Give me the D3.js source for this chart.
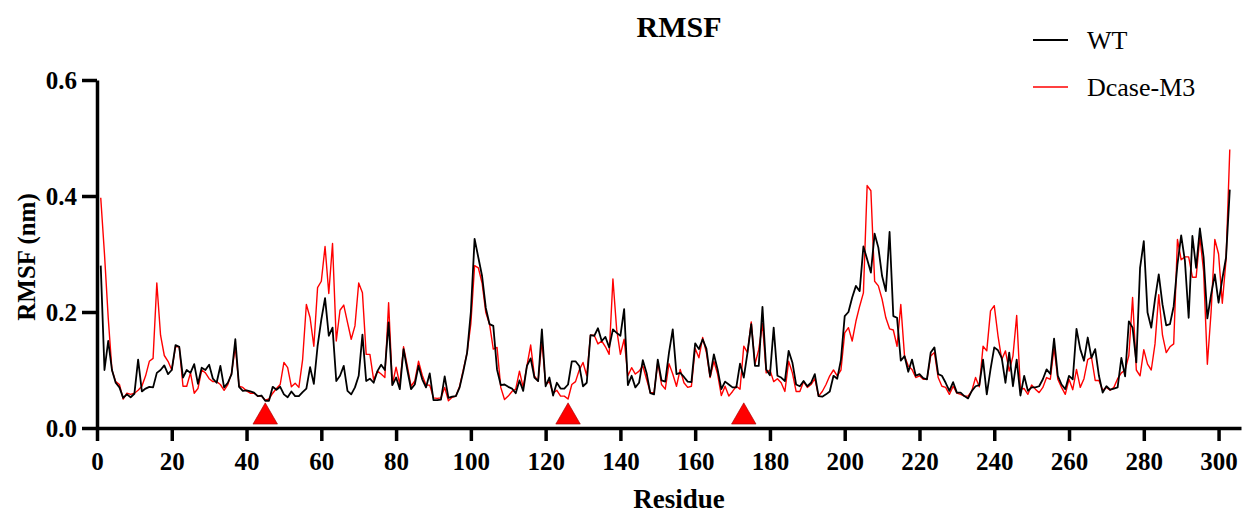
<!DOCTYPE html>
<html><head><meta charset="utf-8">
<script src="https://cdn.jsdelivr.net/npm/d3@7"></script>
<style>body{margin:0;background:#fff}svg{display:block}</style>
</head><body>
<script>
const wt = [0.28,0.10,0.15,0.10,0.078,0.07,0.052,0.058,0.053,0.059,0.118,0.063,0.068,0.071,0.07,0.095,0.10,0.108,0.093,0.10,
0.143,0.14,0.087,0.10,0.095,0.11,0.076,0.104,0.10,0.109,0.085,0.078,0.107,0.07,0.078,0.093,0.153,0.071,0.064,0.065,
0.063,0.061,0.055,0.056,0.047,0.047,0.071,0.066,0.071,0.058,0.053,0.063,0.055,0.055,0.062,0.068,0.105,0.076,0.141,0.187,
0.224,0.159,0.173,0.081,0.09,0.107,0.064,0.058,0.07,0.09,0.161,0.081,0.085,0.078,0.098,0.109,0.10,0.182,0.074,0.087,
0.067,0.136,0.10,0.067,0.075,0.107,0.084,0.07,0.094,0.048,0.048,0.049,0.089,0.052,0.054,0.055,0.07,0.098,0.13,0.2,
0.326,0.294,0.262,0.207,0.179,0.176,0.101,0.074,0.075,0.071,0.068,0.06,0.082,0.064,0.107,0.12,0.087,0.081,0.17,0.072,
0.087,0.056,0.078,0.068,0.068,0.075,0.115,0.115,0.107,0.072,0.078,0.16,0.159,0.172,0.15,0.157,0.139,0.17,0.164,0.159,
0.205,0.074,0.09,0.07,0.078,0.117,0.095,0.06,0.058,0.118,0.082,0.08,0.13,0.17,0.093,0.095,0.088,0.08,0.079,0.146,
0.136,0.153,0.137,0.089,0.127,0.101,0.067,0.08,0.075,0.07,0.07,0.111,0.087,0.13,0.179,0.107,0.107,0.209,0.101,0.091,
0.173,0.09,0.087,0.081,0.133,0.113,0.075,0.072,0.081,0.072,0.078,0.093,0.055,0.054,0.058,0.063,0.09,0.085,0.118,0.193,
0.2,0.225,0.245,0.236,0.313,0.291,0.268,0.335,0.311,0.262,0.236,0.338,0.193,0.19,0.116,0.124,0.097,0.118,0.09,0.093,
0.086,0.084,0.13,0.139,0.093,0.09,0.078,0.064,0.079,0.061,0.061,0.055,0.051,0.064,0.072,0.074,0.118,0.058,0.101,0.139,
0.134,0.121,0.078,0.13,0.072,0.118,0.056,0.09,0.064,0.07,0.07,0.072,0.084,0.101,0.093,0.154,0.09,0.075,0.067,0.09,
0.084,0.171,0.136,0.116,0.156,0.121,0.136,0.09,0.061,0.072,0.066,0.068,0.07,0.121,0.089,0.184,0.173,0.113,0.276,0.322,
0.199,0.173,0.222,0.265,0.213,0.177,0.179,0.21,0.282,0.332,0.288,0.19,0.331,0.276,0.344,0.294,0.189,0.23,0.265,0.216,
0.257,0.294,0.411];

const m3 = [0.397,0.30,0.19,0.10,0.08,0.075,0.05,0.06,0.058,0.06,0.065,0.072,0.09,0.115,0.12,0.25,0.16,0.125,0.115,0.10,
0.14,0.14,0.072,0.072,0.095,0.06,0.068,0.10,0.095,0.085,0.08,0.08,0.075,0.065,0.075,0.095,0.14,0.072,0.07,0.064,
0.06,0.06,0.055,0.055,0.048,0.05,0.06,0.068,0.075,0.113,0.104,0.071,0.077,0.07,0.118,0.213,0.19,0.141,0.242,0.253,
0.313,0.232,0.318,0.15,0.203,0.212,0.182,0.153,0.176,0.25,0.233,0.127,0.127,0.083,0.098,0.093,0.087,0.216,0.075,0.105,
0.075,0.14,0.107,0.072,0.081,0.115,0.091,0.074,0.074,0.052,0.051,0.052,0.07,0.047,0.053,0.055,0.072,0.101,0.13,0.18,
0.28,0.276,0.25,0.199,0.179,0.136,0.139,0.07,0.049,0.055,0.063,0.067,0.098,0.07,0.107,0.143,0.09,0.081,0.15,0.075,
0.08,0.06,0.065,0.055,0.055,0.05,0.075,0.08,0.1,0.113,0.09,0.16,0.16,0.145,0.15,0.14,0.127,0.257,0.17,0.127,
0.153,0.09,0.104,0.093,0.098,0.107,0.084,0.061,0.061,0.113,0.075,0.067,0.111,0.093,0.072,0.101,0.078,0.07,0.072,0.137,
0.121,0.156,0.13,0.087,0.115,0.093,0.056,0.072,0.055,0.063,0.072,0.067,0.141,0.13,0.183,0.11,0.135,0.18,0.095,0.1,
0.08,0.085,0.078,0.063,0.115,0.095,0.063,0.063,0.08,0.07,0.075,0.085,0.055,0.063,0.075,0.09,0.1,0.09,0.1,0.164,
0.173,0.15,0.184,0.21,0.233,0.418,0.409,0.253,0.245,0.222,0.19,0.171,0.169,0.141,0.213,0.124,0.107,0.101,0.087,0.09,
0.084,0.084,0.124,0.13,0.087,0.072,0.07,0.058,0.072,0.06,0.058,0.055,0.055,0.064,0.087,0.071,0.141,0.133,0.202,0.211,
0.159,0.118,0.133,0.098,0.124,0.194,0.067,0.068,0.058,0.074,0.067,0.061,0.07,0.087,0.084,0.139,0.084,0.07,0.058,0.084,
0.066,0.101,0.07,0.085,0.118,0.122,0.082,0.082,0.065,0.07,0.065,0.07,0.085,0.095,0.1,0.125,0.225,0.1,0.09,0.135,
0.11,0.1,0.145,0.23,0.16,0.13,0.14,0.145,0.325,0.29,0.295,0.295,0.26,0.26,0.33,0.27,0.11,0.2,0.325,0.3,
0.215,0.29,0.48];

const xTicks = [0,20,40,60,80,100,120,140,160,180,200,220,240,260,280,300];
const yTicks = [0.0,0.2,0.4,0.6];
const markers = [45,126,173];
const seriesNames = ["WT","Dcase-M3"];
const seriesColors = ["#000000","#ff0000"];

const W = 1254, H = 515;
const svg = d3.select("body").append("svg").attr("width",W).attr("height",H);
const x = d3.scaleLinear().domain([0,306]).range([97,1241]);
const y = d3.scaleLinear().domain([0,0.6]).range([428,80]);
const FONT = "'Liberation Serif','Times New Roman',serif";

const line = d3.line().x((d,i)=>x(i+1)).y(d=>y(d));

// series (red first, black on top)
svg.append("path").datum(m3).attr("d",line).attr("fill","none")
  .attr("stroke",seriesColors[1]).attr("stroke-width",1.4).attr("stroke-linejoin","round");
svg.append("path").datum(wt).attr("d",line).attr("fill","none")
  .attr("stroke",seriesColors[0]).attr("stroke-width",1.8).attr("stroke-linejoin","round");

// markers (triangles)
const tri = d3.symbol().type(d3.symbolTriangle).size(260);
svg.selectAll(".mk").data(markers).enter().append("path")
  .attr("d",tri)
  .attr("transform",d=>`translate(${x(d)},${y(0)-11})`)
  .attr("fill","#ff0000").attr("stroke","#a00000").attr("stroke-width",0.6);

// axes
const xAxis = d3.axisBottom(x).tickValues(xTicks).tickSize(13).tickPadding(11).tickSizeOuter(0);
const gx = svg.append("g").attr("transform",`translate(0,${y(0)})`).call(xAxis);
gx.select(".domain").attr("stroke","#000").attr("stroke-width",3.5);
gx.selectAll(".tick line").attr("stroke","#000").attr("stroke-width",3.5);
gx.selectAll(".tick text").attr("font-family",FONT).attr("font-weight","bold").attr("font-size",25).attr("fill","#000");

const yAxis = d3.axisLeft(y).tickValues(yTicks).tickFormat(d3.format(".1f")).tickSize(15).tickPadding(5).tickSizeOuter(0);
const gy = svg.append("g").attr("transform",`translate(${x(0)},0)`).call(yAxis);
gy.select(".domain").attr("stroke","#000").attr("stroke-width",3.5);
gy.selectAll(".tick line").attr("stroke","#000").attr("stroke-width",3.5);
gy.selectAll(".tick text").attr("font-family",FONT).attr("font-weight","bold").attr("font-size",25).attr("fill","#000");

// title & labels
svg.append("text").attr("x",679).attr("y",37).attr("text-anchor","middle")
  .attr("font-family",FONT).attr("font-weight","bold").attr("font-size",30).text("RMSF");
svg.append("text").attr("x",679).attr("y",508).attr("text-anchor","middle")
  .attr("font-family",FONT).attr("font-weight","bold").attr("font-size",27).text("Residue");
svg.append("text").attr("transform","translate(35,257) rotate(-90)").attr("text-anchor","middle")
  .attr("font-family",FONT).attr("font-weight","bold").attr("font-size",25).text("RMSF (nm)");

// legend
const lg = svg.append("g");
seriesNames.forEach((n,i)=>{
  const yy = 40 + i*47;
  lg.append("line").attr("x1",1033).attr("x2",1068).attr("y1",yy).attr("y2",yy)
    .attr("stroke",seriesColors[i]).attr("stroke-width",i===0?1.8:1.4);
  lg.append("text").attr("x",1087).attr("y",yy+9).attr("font-family",FONT)
    .attr("font-size",26).attr("fill","#000").text(n);
});
</script>
</body></html>
